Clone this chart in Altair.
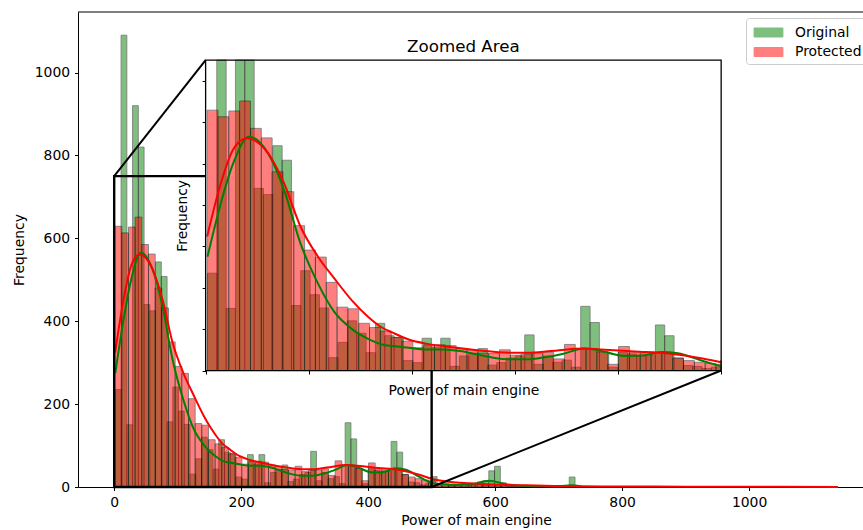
import altair as alt
import pandas as pd

# ---------------- data ----------------
series_names = ["Original", "Protected"]
series_colors = ["green", "red"]

# histogram bins: start and width of each series' bins
orig_bin_start, orig_bin_width = 1.8, 9.05
prot_bin_start, prot_bin_width = 1.5, 10.5

orig_counts = [235, 1090, 150, 920, 820, 440, 425, 543, 508, 157,
               241, 183, 151, 31, 68, 120, 90, 43, 114, 84,
               80, 24, 19, 78, 55, 78, 10, 35, 42, 53,
               13, 19, 30, 35, 86, 15, 35, 20, 25, 8,
               155, 116, 45, 8, 44, 40, 35, 38, 110, 84,
               30, 12, 10, 5, 8, 25, 3, 2, 3, 4,
               2, 5, 6, 12, 15, 39, 50, 10, 5, 2,
               1, 0, 1, 0, 0, 1, 0, 0, 1, 24,
               1]

prot_counts = [629, 613, 627, 651, 585, 562, 480, 432, 350, 291,
               274, 213, 153, 149, 114, 104, 95, 80, 71, 55,
               62, 62, 60, 53, 50, 42, 41, 50, 37, 40,
               41, 44, 28, 63, 53, 53, 45, 15, 58, 45,
               41, 44, 42, 30, 24, 20, 17, 15, 8, 9,
               7, 6, 9, 5, 6, 4, 5, 3, 4, 2,
               3, 2, 1, 1, 1, 0, 1, 0, 1, 0,
               0, 1, 0, 0, 0, 1, 0, 0, 0, 0,
               1, 0, 0, 0, 0, 0, 0, 1, 0, 0,
               0, 0, 0, 0, 0, 0, 0, 0, 0, 0,
               0, 0, 0, 0, 0, 0, 0, 1]

# KDE curves (scaled to counts)
orig_kde_x = [1.8, 14, 27, 42, 60, 76, 92, 109, 125, 142, 158, 171, 181, 197,
              214, 230, 247, 263, 279, 296, 312, 329, 346, 367, 383, 400, 410,
              426, 442, 458, 480, 500, 530, 560, 590, 620, 660, 700, 720, 735]
orig_kde_y = [275, 397, 502, 565, 527, 437, 307, 210, 141, 100, 76, 63, 59, 55,
              51, 51, 47, 39, 31, 27, 27, 32, 40, 53, 48, 37, 35,
              37, 45, 42, 25, 10, 5, 6, 15, 6, 2, 2, 4, 2]

prot_kde_x = [1.5, 14, 27, 40, 60, 76, 92, 109, 125, 142, 158, 171, 181, 197,
              214, 230, 263, 296, 312, 335, 367, 383, 416, 449, 482, 500, 530,
              560, 600, 650, 700, 800, 900, 1000, 1140]
prot_kde_y = [324, 446, 535, 561, 527, 453, 348, 275, 222, 169, 129, 104, 92, 75,
              65, 59, 49, 43, 43, 47, 53, 51, 46, 41, 29, 20, 12,
              9, 6, 4, 2.5, 1.2, 0.8, 0.5, 0.3]

x_ticks = [0, 200, 400, 600, 800, 1000]
y_ticks = [0, 200, 400, 600, 800, 1000]
inset_x_ticks = [0, 100, 200, 300, 400, 500]
inset_y_ticks = [0, 100, 200, 300, 400, 500, 600, 700]

# zoomed region (data units) and where the inset sits (main-axis data units)
zoom_x = [0, 500]
zoom_y = [0, 750]
inset_main_x = [144, 956]
inset_main_y = [281, 1030]

# ---------------- layout ----------------
X_MIN, X_MAX = -57, 1179.4
Y_MAX = 1146
W, H = 785, 475
FONT = "DejaVu Sans"
FS = 13.9


def px(v):
    return (v - X_MIN) / (X_MAX - X_MIN) * W


def py(v):
    return H - v / Y_MAX * H


# ---------------- tables ----------------
rows = []
for i, c in enumerate(orig_counts):
    if c > 0:
        rows.append({"series": "Original", "x0": orig_bin_start + i * orig_bin_width,
                     "x1": orig_bin_start + (i + 1) * orig_bin_width, "n": c, "o": 0})
for i, c in enumerate(prot_counts):
    if c > 0:
        rows.append({"series": "Protected", "x0": prot_bin_start + i * prot_bin_width,
                     "x1": prot_bin_start + (i + 1) * prot_bin_width, "n": c, "o": 1})
bars_df = pd.DataFrame(rows)

kde_df = pd.concat([
    pd.DataFrame({"series": "Original", "x": orig_kde_x, "y": orig_kde_y}),
    pd.DataFrame({"series": "Protected", "x": prot_kde_x, "y": prot_kde_y}),
], ignore_index=True)

box_df = pd.DataFrame({"x0": [zoom_x[0]], "x1": [zoom_x[1]],
                       "y0": [zoom_y[0]], "y1": [zoom_y[1]]})
conn_df = pd.DataFrame({
    "x": [zoom_x[0], zoom_x[1]], "y": [zoom_y[1], zoom_y[0]],
    "x2": [inset_main_x[0], inset_main_x[1]], "y2": [inset_main_y[1], inset_main_y[0]],
})
spine_df = pd.DataFrame({"x": [X_MIN], "x2": [X_MAX], "y": [Y_MAX]})
title_df = pd.DataFrame({"x": [(zoom_x[0] + zoom_x[1]) / 2], "y": [zoom_y[1]],
                         "t": ["Zoomed Area"]})

color_scale = alt.Scale(domain=series_names, range=series_colors)

# ---------------- main axes ----------------
mx_scale = alt.Scale(domain=[X_MIN, X_MAX], nice=False, zero=False, padding=0)
my_scale = alt.Scale(domain=[0, Y_MAX], nice=False, zero=True, padding=0)
mx_axis = alt.Axis(values=x_ticks, title="Power of main engine", orient="bottom",
                   domain=True, ticks=True, labels=True,
                   labelPadding=4.9, titlePadding=4, titleX=398, format="d")
my_axis = alt.Axis(values=y_ticks, title="Frequency", orient="left",
                   domain=True, ticks=True, labels=True,
                   labelPadding=4.9, titlePadding=8, format="d")

main_bars = alt.Chart(bars_df).mark_bar(opacity=0.5, stroke="black", strokeWidth=0.9).encode(
    x=alt.X("x0:Q", scale=mx_scale, axis=mx_axis),
    x2="x1:Q",
    y=alt.Y("n:Q", scale=my_scale, axis=my_axis),
    y2=alt.datum(0),
    color=alt.Color("series:N", scale=color_scale, legend=alt.Legend(
        title=None, orient="none", legendX=668, legendY=6,
        symbolType="M-1.6,-0.5H1.6V0.5H-1.6Z", symbolSize=324,
        symbolOffset=8, labelOffset=17, padding=5, rowPadding=2.5,
        symbolOpacity=0.5, symbolStrokeColor="black", symbolStrokeWidth=1,
        labelFont=FONT, labelFontSize=FS, labelColor="black",
        fillColor="white", strokeColor="#cccccc", cornerRadius=3)),
    order=alt.Order("o:Q"),
)

main_kde = alt.Chart(kde_df).mark_line(strokeWidth=2, interpolate="monotone").encode(
    x=alt.X("x:Q", scale=mx_scale, axis=mx_axis),
    y=alt.Y("y:Q", scale=my_scale, axis=my_axis),
    stroke=alt.Stroke("series:N", scale=color_scale, legend=None),
    detail="series:N",
)

main_box = alt.Chart(box_df).mark_rect(fillOpacity=0, stroke="black", strokeWidth=2.4).encode(
    x=alt.X("x0:Q", scale=mx_scale, axis=mx_axis), x2="x1:Q",
    y=alt.Y("y0:Q", scale=my_scale, axis=my_axis), y2="y1:Q",
)

connectors = alt.Chart(conn_df).mark_rule(stroke="black", strokeWidth=2).encode(
    x=alt.X("x:Q", scale=mx_scale, axis=mx_axis), x2="x2:Q",
    y=alt.Y("y:Q", scale=my_scale, axis=my_axis), y2="y2:Q",
)

top_spine = alt.Chart(spine_df).mark_rule(stroke="black", strokeWidth=1).encode(
    x=alt.X("x:Q", scale=mx_scale, axis=mx_axis), x2="x2:Q",
    y=alt.Y("y:Q", scale=my_scale, axis=my_axis),
)

main_group = alt.layer(main_bars, main_kde, main_box, connectors, top_spine)

# ---------------- inset axes ----------------
ix_scale = alt.Scale(domain=zoom_x, range=[px(inset_main_x[0]), px(inset_main_x[1])],
                     clamp=True, nice=False, zero=False, padding=0)
iy_scale = alt.Scale(domain=zoom_y, range=[py(inset_main_y[0]), py(inset_main_y[1])],
                     clamp=True, nice=False, zero=False, padding=0)
ix_axis = alt.Axis(values=inset_x_ticks, labels=False, domain=False, orient="bottom",
                   offset=-(H - py(inset_main_y[0])), title="Power of main engine",
                   titlePadding=9)
iy_axis = alt.Axis(values=inset_y_ticks, labels=False, domain=False, orient="left",
                   offset=-px(inset_main_x[0]), title="Frequency", titlePadding=12)

inset_bg = alt.Chart(box_df).mark_rect(fill="white", stroke=None).encode(
    x=alt.X("x0:Q", scale=ix_scale, axis=ix_axis), x2="x1:Q",
    y=alt.Y("y0:Q", scale=iy_scale, axis=iy_axis), y2="y1:Q",
)

inset_bars = alt.Chart(bars_df).mark_bar(opacity=0.5, stroke="black", strokeWidth=0.9).encode(
    x=alt.X("x0:Q", scale=ix_scale, axis=ix_axis),
    x2="x1:Q",
    y=alt.Y("n:Q", scale=iy_scale, axis=iy_axis),
    y2=alt.datum(0),
    color=alt.Color("series:N", scale=color_scale, legend=None),
    order=alt.Order("o:Q"),
).transform_filter(alt.datum.x0 < zoom_x[1])

inset_kde = alt.Chart(kde_df).mark_line(strokeWidth=2, interpolate="monotone").encode(
    x=alt.X("x:Q", scale=ix_scale, axis=ix_axis),
    y=alt.Y("y:Q", scale=iy_scale, axis=iy_axis),
    stroke=alt.Stroke("series:N", scale=color_scale, legend=None),
    detail="series:N",
).transform_filter(alt.datum.x <= zoom_x[1])

inset_frame = alt.Chart(box_df).mark_rect(fillOpacity=0, stroke="black", strokeWidth=1.3).encode(
    x=alt.X("x0:Q", scale=ix_scale, axis=ix_axis), x2="x1:Q",
    y=alt.Y("y0:Q", scale=iy_scale, axis=iy_axis), y2="y1:Q",
)

inset_title = alt.Chart(title_df).mark_text(
    dy=-8, baseline="alphabetic", align="center", font=FONT, fontSize=16.7, color="black"
).encode(
    x=alt.X("x:Q", scale=ix_scale, axis=ix_axis),
    y=alt.Y("y:Q", scale=iy_scale, axis=iy_axis),
    text="t:N",
)

inset_group = alt.layer(inset_bg, inset_bars, inset_kde, inset_frame, inset_title)

chart = alt.layer(main_group, inset_group).resolve_scale(
    x="independent", y="independent", color="independent", stroke="independent"
).resolve_axis(x="independent", y="independent").properties(
    width=W, height=H,
    padding={"left": 78, "top": 12, "right": 0, "bottom": 43},
    autosize=alt.AutoSizeParams(type="none"),
).configure_view(stroke=None).configure_axis(
    grid=False, labelFont=FONT, titleFont=FONT, labelFontSize=FS, titleFontSize=FS,
    titleFontWeight="normal", labelColor="black", titleColor="black",
    tickColor="black", domainColor="black", tickSize=3.5, tickWidth=1, domainWidth=1,
)

chart.save("out.html", embed_options={"renderer": "svg", "actions": False})
